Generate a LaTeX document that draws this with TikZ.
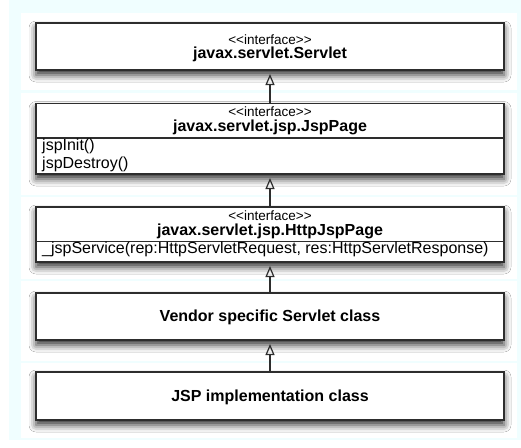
\documentclass[tikz,border=0pt]{standalone}
\usepackage{fontspec}
\setmainfont{Liberation Sans}
\usetikzlibrary{shadows.blur,arrows.meta}

\definecolor{panelbg}{RGB}{240,254,255}
\definecolor{edge}{RGB}{45,45,45}

\tikzset{
  umlbox/.style={draw=edge, line width=1.3pt, fill=white, anchor=north west,
    inner sep=0pt, outer sep=0pt,
    blur shadow={shadow xshift=0pt, shadow yshift=-5pt,
      shadow blur radius=7pt, shadow opacity=80}},
  stereo/.style={inner sep=0pt, anchor=base, font=\fontsize{13.5}{16}\selectfont},
  cname/.style={inner sep=0pt, anchor=base, font=\fontsize{16}{19}\selectfont\bfseries},
  member/.style={inner sep=0pt, anchor=base west, font=\fontsize{16}{19}\selectfont},
  divider/.style={draw=edge, line width=1.1pt},
  realize/.style={draw=edge, line width=1.3pt,
    -{Triangle[open, length=11pt, width=9pt, line width=1.2pt]}, shorten >=4pt}
}
\newcommand{\stereotype}{{<}{<}interface{>}{>}}

\begin{document}
\begin{tikzpicture}[x=1pt, y=-1pt]
  \useasboundingbox (0,0) rectangle (521,447);

  % backdrop and row panels
  \fill[panelbg] (9,0) rectangle (521,440);
  \fill[white] (21,13) rectangle (517,90);
  \fill[white] (21,93) rectangle (517,195);
  \fill[white] (21,197) rectangle (517,279);
  \fill[white] (21,281) rectangle (517,361);
  \fill[white] (21,363) rectangle (517,438);

  % class boxes
  \node[umlbox, minimum width=468pt, minimum height=47pt] (servlet) at (36,23) {};
  \node[umlbox, minimum width=468pt, minimum height=70.5pt] (jsppage) at (36,103.5) {};
  \node[umlbox, minimum width=468pt, minimum height=55pt] (httpjsp) at (36,207) {};
  \node[umlbox, minimum width=468pt, minimum height=47pt] (vendor) at (36,293) {};
  \node[umlbox, minimum width=468pt, minimum height=48pt] (impl) at (36,372) {};

  % javax.servlet.Servlet
  \node[stereo] (servletst) at (270,44.5) {\stereotype};
  \node[cname] (servletnm) at (270,58.5) {javax.servlet.Servlet};

  % javax.servlet.jsp.JspPage
  \node[stereo] (jspst) at (270,116.5) {\stereotype};
  \node[cname] (jspnm) at (270,131.5) {javax.servlet.jsp.JspPage};
  \draw[divider] (jsppage.west |- 0,138) coordinate (jspdl) -- (jsppage.east |- 0,138) coordinate (jspdr);
  \node[member] (jspinit) at (42,150) {jspInit()};
  \node[member] (jspdestroy) at (42,168) {jspDestroy()};

  % javax.servlet.jsp.HttpJspPage
  \node[stereo] (httpst) at (270,220) {\stereotype};
  \node[cname] (httpnm) at (270,235) {javax.servlet.jsp.HttpJspPage};
  \draw[divider] (httpjsp.west |- 0,241.5) coordinate (httpdl) -- (httpjsp.east |- 0,241.5) coordinate (httpdr);
  \node[member] (jspservice) at (42,253.5) {\_jspService(rep:HttpServletRequest, res:HttpServletResponse)};

  % concrete classes
  \node[cname] (vendornm) at (270,321) {Vendor specific Servlet class};
  \node[cname] (implnm) at (270,401) {JSP implementation class};

  % realization arrows
  \draw[realize] (jsppage.north -| 270,0) -- (servlet.south -| 270,0);
  \draw[realize] (httpjsp.north -| 270,0) -- (jsppage.south -| 270,0);
  \draw[realize] (vendor.north -| 270,0) -- (httpjsp.south -| 270,0);
  \draw[realize] (impl.north -| 270,0) -- (vendor.south -| 270,0);
\end{tikzpicture}
\end{document}
